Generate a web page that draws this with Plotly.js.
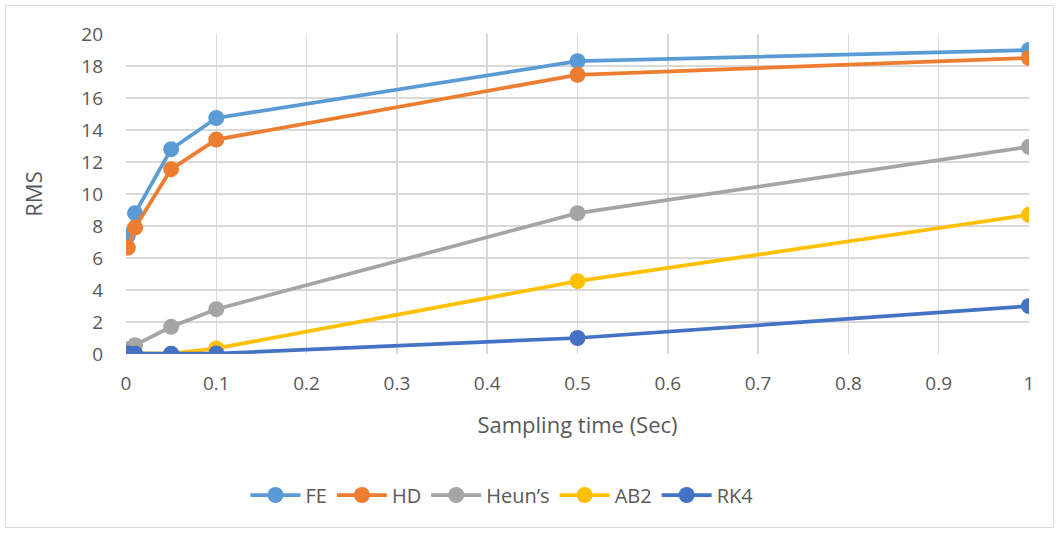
<!DOCTYPE html>
<html><head><meta charset="utf-8">
<script src="https://cdn.plot.ly/plotly-3.0.1.min.js"></script>
<style>body{margin:0;background:#fff}#c{width:1059px;height:533px}</style>
</head><body><div id="c"></div>
<script>
const samplingTime = [0.002, 0.01, 0.05, 0.1, 0.5, 1];
const seriesNames = ["FE", "HD", "Heun’s", "AB2", "RK4"];
const FE = [7.4, 8.8, 12.8, 14.75, 18.3, 19.0];
const HD = [6.65, 7.9, 11.55, 13.4, 17.45, 18.5];
const Heuns = [0.3, 0.55, 1.7, 2.8, 8.8, 12.95];
const AB2 = [0.05, 0.05, 0.02, 0.35, 4.55, 8.7];
const RK4 = [0.05, 0.03, 0.02, 0.03, 1.0, 3.0];
const colors = ["#5b9bd5", "#ed7d31", "#a5a5a5", "#ffc000", "#4472c4"];
const values = [FE, HD, Heuns, AB2, RK4];

const traces = values.map((v, i) => ({
  x: samplingTime, y: v, name: seriesNames[i], type: "scatter", mode: "lines+markers",
  line: {color: colors[i], width: 3.75}, marker: {color: colors[i], size: 16}
}));

const W = 1059, H = 533, L = 126, R = 30, T = 34, B = 179;
const pw = W - L - R, ph = H - T - B;
const px = p => (p - L) / pw, py = p => (H - B - p) / ph;

const fam = "Open Sans, Liberation Sans, sans-serif";
const font = {family: fam, size: 19, color: "#595959"};
const layout = {
  width: W, height: H, margin: {l: L, r: R, t: T, b: B},
  paper_bgcolor: "#fff", plot_bgcolor: "#fff", font: font, showlegend: true,
  xaxis: {range: [0, 1], dtick: 0.1, tick0: 0, showgrid: true, gridcolor: "#d9d9d9", gridwidth: 1.5,
    zeroline: false, showline: false, ticks: "", tickfont: font, ticklabelstandoff: 16,
    title: {text: "Sampling time (Sec)", font: {family: fam, size: 22, color: "#595959"}, standoff: 22}},
  yaxis: {range: [0, 20], dtick: 2, showgrid: true, gridcolor: "#d9d9d9", gridwidth: 1.5,
    zeroline: false, showline: false, ticks: "", tickfont: font, ticklabelstandoff: 22,
    title: {text: "RMS", font: {family: fam, size: 22, color: "#595959"}, standoff: 32}},
  legend: {orientation: "h", x: px(502), xanchor: "center", y: py(495), yanchor: "middle",
    font: {family: fam, size: 20, color: "#595959"}, itemwidth: 50},
  shapes: [
    {type: "rect", xref: "paper", yref: "paper", x0: px(5.5), x1: px(1053.5), y0: py(527.5), y1: py(5.5),
     line: {color: "#d9d9d9", width: 1}, fillcolor: "rgba(0,0,0,0)", layer: "below"}
  ]
};
Plotly.newPlot("c", traces, layout, {displayModeBar: false, staticPlot: true});
</script></body></html>
